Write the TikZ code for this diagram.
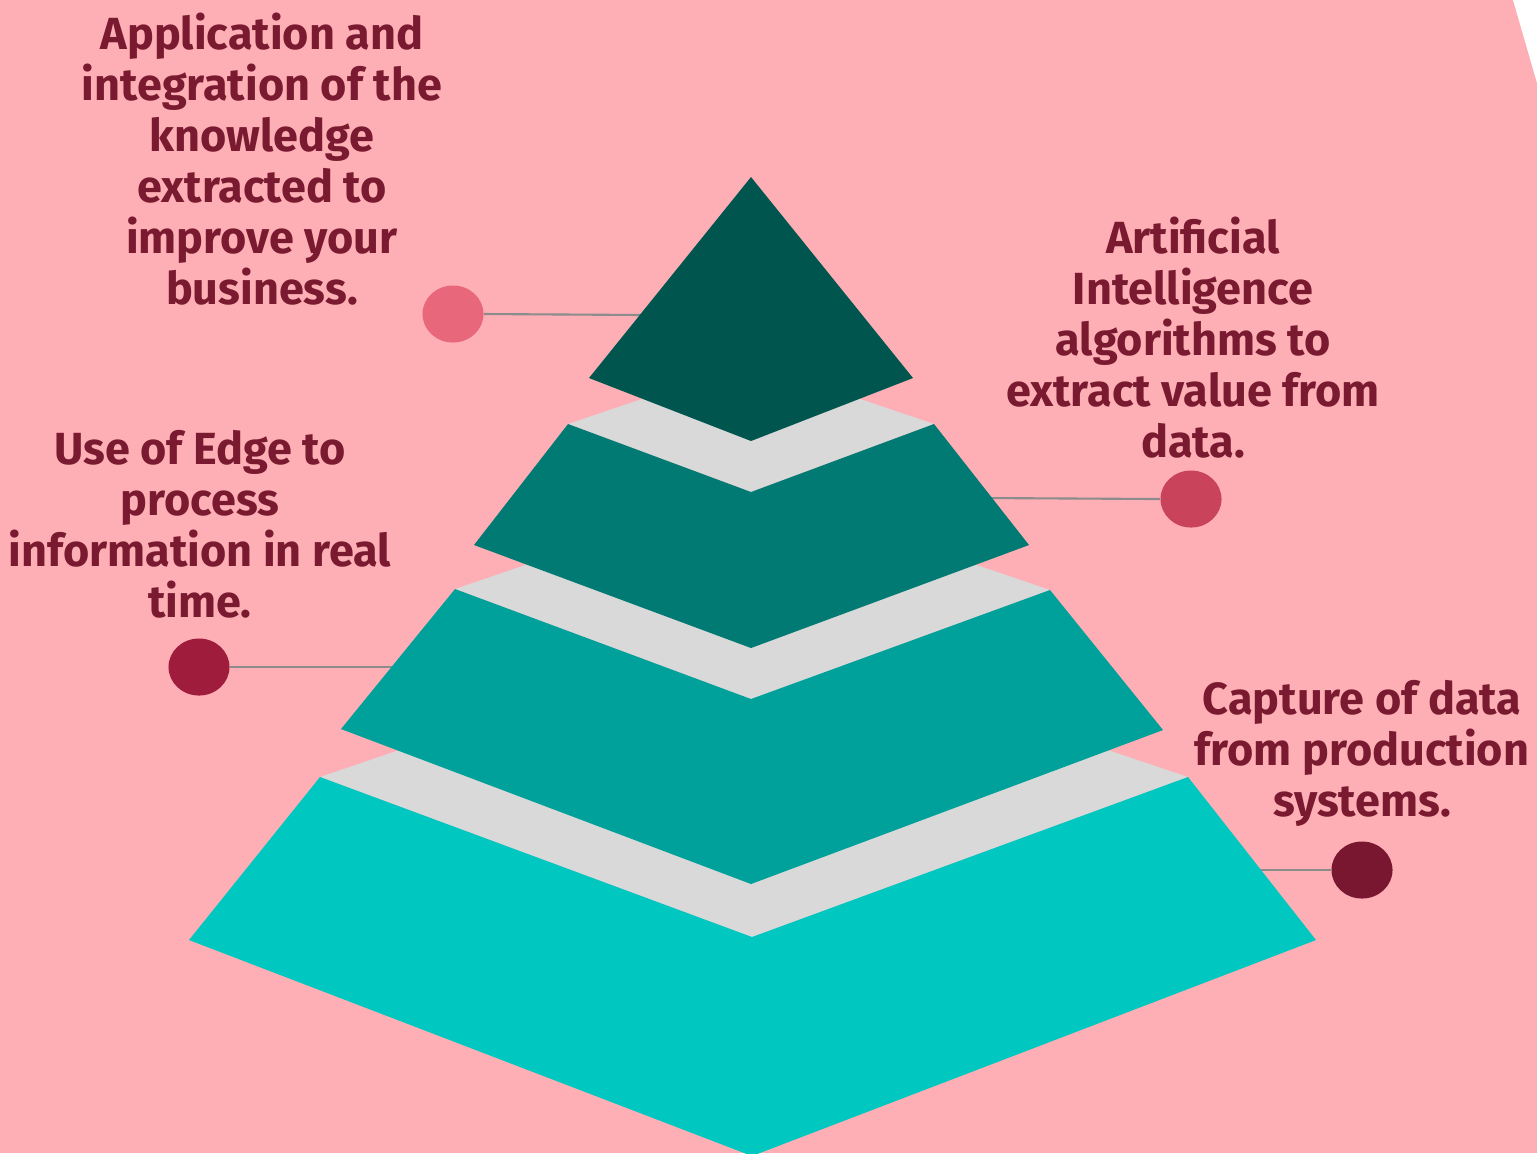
\documentclass[tikz,border=0pt]{standalone}
\usepackage{fontspec}
\setmainfont{Fira Sans}
\usetikzlibrary{shapes.geometric}
\definecolor{bgpink}{HTML}{FEAFB5}
\definecolor{topc}{HTML}{00564F}
\definecolor{lay2}{HTML}{007A72}
\definecolor{lay3}{HTML}{00A19A}
\definecolor{lay4}{HTML}{00C8C1}
\definecolor{face}{HTML}{D9D9D9}
\definecolor{linec}{HTML}{8C8C8C}
\definecolor{dotA}{HTML}{E8677A}
\definecolor{dotB}{HTML}{C9445A}
\definecolor{dotC}{HTML}{A01C3C}
\definecolor{dotD}{HTML}{7A1730}
\definecolor{txt}{HTML}{7A1A30}
\tikzset{
  lbl/.style={text=txt, align=center, inner sep=0pt, font=\fontsize{12.8}{14.5}\selectfont\bfseries},
  dotnode/.style={ellipse, minimum width=0.61cm, minimum height=0.57cm, inner sep=0pt},
  conn/.style={draw=linec, line width=0.6pt},
}
\begin{document}
\begin{tikzpicture}[x=0.01cm,y=-0.01cm]
\useasboundingbox (0,0) rectangle (1537,1153);
\fill[bgpink] (0,0) rectangle (1537,1153);
\fill[white] (1513,0) -- (1537,0) -- (1537,83) -- cycle;

% connector end points on the pyramid
\coordinate (e1) at (645,315);
\coordinate (e2) at (985,498);
\coordinate (e3) at (396,667);
\coordinate (e4) at (1256,870);

% dots
\node[dotnode, fill=dotA] (d1) at (453,314) {};
\node[dotnode, fill=dotB] (d2) at (1191,499) {};
\node[dotnode, fill=dotC] (d3) at (199,667) {};
\node[dotnode, fill=dotD] (d4) at (1362,870) {};

\draw[conn] (d1.east) -- (e1);
\draw[conn] (d2.west) -- (e2);
\draw[conn] (d3.east) -- (e3);
\draw[conn] (d4.west) -- (e4);

% bottom layer
\fill[face] (320,777) -- (752,630) -- (1188,777) -- (752,937) -- cycle;
\fill[lay4] (320,777) -- (752,937) -- (1188,777) -- (1316,940) -- (752,1156) -- (189,940) -- cycle;
% third layer
\fill[face] (455,589) -- (751,488) -- (1050,590) -- (751,699) -- cycle;
\fill[lay3] (455,589) -- (751,699) -- (751,884) -- (341,729) -- cycle;
\fill[lay3] (751,699) -- (1050,590) -- (1163,730) -- (751,884) -- cycle;
% second layer
\fill[face] (568,424) -- (751,362) -- (934,424) -- (751,492) -- cycle;
\fill[lay2] (568,424) -- (751,492) -- (934,424) -- (1029,545) -- (751,648) -- (474,545) -- cycle;
% top
\fill[topc] (751,177) -- (913,378) -- (751,441) -- (589,378) -- cycle;

% labels
\node[lbl] (t1) at (262,159) {Application and\\integration of the\\knowledge\\extracted to\\improve your\\business.};
\node[lbl] (t2) at (1193,338) {Artificial\\Intelligence\\algorithms to\\extract value from\\data.};
\node[lbl] (t3) at (200,524) {Use of Edge to\\process\\information in real\\time.};
\node[lbl] (t4) at (1362,753) {Capture of data\\from production\\systems.};
\end{tikzpicture}
\end{document}
